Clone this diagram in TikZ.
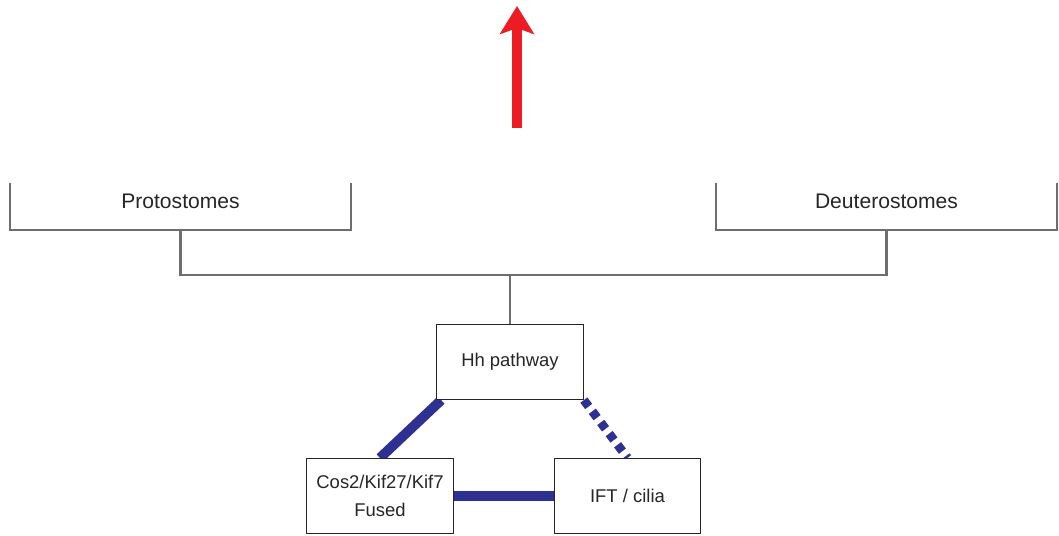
\documentclass[tikz,border=0pt]{standalone}
\usepackage{fontspec}
\setmainfont{Liberation Sans}
\usetikzlibrary{
    positioning,
    backgrounds,
    arrows.meta
    }

\definecolor{treegray}{HTML}{6D6E71}
\definecolor{linkblue}{HTML}{2E3192}
\definecolor{upred}{HTML}{ED1C24}

\begin{document}
\begin{tikzpicture}[x=0.02cm, y=-0.02cm]
\tikzset{clade/.style =
        {
            minimum width=6.82cm,
            minimum height=0.94cm,
            inner sep=0cm,
            text=black!85,
            font=\fontsize{12}{14}\selectfont
        }
}

\tikzset{branch/.style =
        {
            treegray,
            line width=1.3pt
        }
}

\tikzset{gene/.style =
        {
            rectangle,
            draw=black!85,
            line width=0.7pt,
            fill=white,
            minimum width=2.93cm,
            minimum height=1.5cm,
            align=center,
            text=black!85,
            font=\fontsize{10.5}{16}\selectfont
        }
}

\tikzset{link/.style =
        {
            linkblue,
            line width=5.6pt
        }
}

\tikzset{maybe link/.style =
        {
            link,
            line width=5pt,
            dash pattern=on 0.16cm off 0.12cm
        }
}

\tikzset{trend/.style =
        {
            upred,
            line width=5.7pt,
            -{Stealth[length=0.56cm, width=0.68cm, inset=0.12cm]}
        }
}
        \useasboundingbox (0,0) rectangle (1059,535);

        % the two bilaterian branches
        \node[clade] (proto) at (180.5,206.5) {\raisebox{0.2cm}{Protostomes}};
        \node[clade] (deut) at (886.5,206.5) {\raisebox{0.2cm}{Deuterostomes}};

        \draw[branch] (proto.north west) |- (proto.south east) -- (proto.north east);
        \draw[branch] (deut.north west) |- (deut.south east) -- (deut.north east);
        \draw[branch] (proto.south) -- ++(0,45) coordinate (join) -| (deut.south);

        % the three-way module
        \node[gene] (hh) at (510,362) {Hh pathway};
        \node[gene] (cos) at (380,496) {Cos2/Kif27/Kif7\\Fused};
        \node[gene] (ift) at (627.5,496) {IFT / cilia};

        \draw[branch] (hh.north) -- (hh.north |- join);

        \begin{scope}[on background layer]
            \draw[link] ([xshift=0.1cm]hh.south west) -- (cos.north);
            \draw[link] (cos.east) -- (ift.west);
            \draw[maybe link] (hh.south east) -- (ift.north);
        \end{scope}

        % arrow of time
        \coordinate (tail) at (517,128);
        \coordinate (tip) at (517,6);
        \draw[trend] (tail) -- (tip);

\end{tikzpicture}
\end{document}
